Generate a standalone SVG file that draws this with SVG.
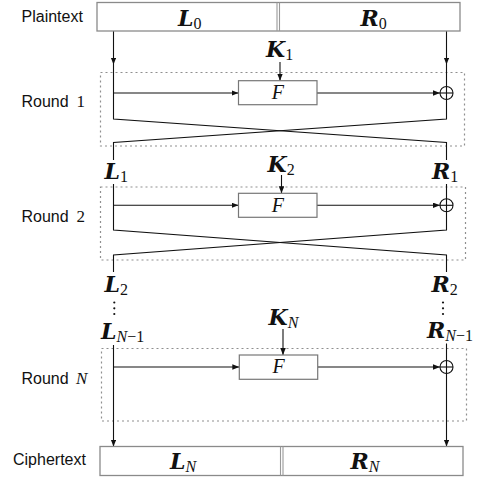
<svg xmlns="http://www.w3.org/2000/svg" width="482" height="478" viewBox="0 0 482 478">
  <style>
    .sans { font-family: "Liberation Sans", Arial, sans-serif; font-size: 16px; fill: #111; }
    .num { font-family: "Liberation Serif", "Times New Roman", serif; font-size: 17px; fill: #111; }
    .var { font-family: "DejaVu Serif", serif; font-weight: bold; font-style: italic; font-size: 22px; fill: #111; }
    .sub { font-family: "Liberation Serif", "Times New Roman", serif; font-weight: normal; font-style: normal; font-size: 16px; }
    .subi { font-family: "Liberation Serif", "Times New Roman", serif; font-weight: normal; font-style: italic; font-size: 16px; }
    .fn { font-family: "Liberation Serif", "Times New Roman", serif; font-style: italic; font-size: 20px; fill: #111; }
    .block { fill: #fff; stroke: #8a8a8a; stroke-width: 1.3; }
    .split { stroke: #9a9a9a; stroke-width: 1.1; }
    .fbox { fill: #fff; stroke: #777; stroke-width: 1.2; }
    .round { fill: none; stroke: #8f8f8f; stroke-width: 1.2; stroke-dasharray: 2 3; }
    .wire { fill: none; stroke: #111; stroke-width: 1.1; }
    .arrow { fill: none; stroke: #111; stroke-width: 1.1; marker-end: url(#tip); }
    .xor { fill: none; stroke: #111; stroke-width: 1.1; }
  </style>
  <defs>
    <marker id="tip" markerUnits="userSpaceOnUse" markerWidth="8" markerHeight="6" refX="7" refY="2.75" orient="auto">
      <path d="M0,0 L7,2.75 L0,5.5 z" fill="#111"/>
    </marker>
  </defs>

  <!-- side labels -->
  <text class="sans" x="21.5" y="21.5">Plaintext</text>
  <text class="sans" x="21.5" y="106.5">Round <tspan class="num" x="76.5">1</tspan></text>
  <text class="sans" x="21.5" y="221.5">Round <tspan class="num" x="76.5">2</tspan></text>
  <text class="sans" x="21.5" y="384">Round <tspan class="num" x="76" font-style="italic">N</tspan></text>
  <text class="sans" x="13" y="465">Ciphertext</text>

  <!-- round frames -->
  <g id="round1">
    <rect class="round" x="100.5" y="72.5" width="364" height="73.5"/>
  </g>
  <g id="round2">
    <rect class="round" x="100.5" y="187" width="365" height="73"/>
  </g>
  <g id="roundN">
    <rect class="round" x="101.5" y="348.5" width="365" height="72.5"/>
  </g>

  <!-- connectors -->
  <g id="connectors">
    <!-- input halves into round 1 -->
    <path class="arrow" d="M113.5,31 V64.5"/>
    <path class="arrow" d="M446.5,31 V64.5"/>
    <path class="wire" d="M113.5,64 V119 L446.5,142.5 V160"/>
    <path class="wire" d="M446.5,64 V119 L113.5,142.5 V160"/>
    <path class="arrow" d="M113.5,93 H238.5"/>
    <path class="arrow" d="M317,93 H440"/>
    <path class="arrow" d="M280,62 V80.7"/>

    <!-- round 2 -->
    <path class="wire" d="M113.5,184 V230 L446.5,255 V272"/>
    <path class="wire" d="M446.5,184 V230 L113.5,255 V272"/>
    <path class="arrow" d="M113.5,205.3 H238.5"/>
    <path class="arrow" d="M317,205.3 H440"/>
    <path class="arrow" d="M281.5,175 V193.3"/>

    <!-- round N (no swap) -->
    <path class="arrow" d="M113.5,345 V446.5"/>
    <path class="arrow" d="M446.5,343.5 V446.5"/>
    <path class="arrow" d="M113.5,367 H239.3"/>
    <path class="arrow" d="M317.7,367 H440"/>
    <path class="arrow" d="M283,329 V355"/>
  </g>

  <!-- XOR nodes -->
  <g id="xor1">
    <circle class="xor" cx="446.5" cy="93" r="6.5"/>
    <path class="xor" d="M440,93 H453"/>
  </g>
  <g id="xor2">
    <circle class="xor" cx="446.5" cy="205.3" r="6.5"/>
    <path class="xor" d="M440,205.3 H453"/>
  </g>
  <g id="xorN">
    <circle class="xor" cx="446.5" cy="367" r="6.5"/>
    <path class="xor" d="M440,367 H453"/>
  </g>

  <!-- round functions -->
  <g id="f1">
    <rect class="fbox" x="238.5" y="80.7" width="78.5" height="24"/>
    <text class="fn" x="277.8" y="99" text-anchor="middle">F</text>
  </g>
  <g id="f2">
    <rect class="fbox" x="238.5" y="193.3" width="78.5" height="24"/>
    <text class="fn" x="277.8" y="211.5" text-anchor="middle">F</text>
  </g>
  <g id="fN">
    <rect class="fbox" x="239.3" y="355" width="78.4" height="24.3"/>
    <text class="fn" x="278.5" y="373.3" text-anchor="middle">F</text>
  </g>

  <!-- plaintext block -->
  <g id="plaintext">
    <rect class="block" x="97" y="2.5" width="363" height="28.5"/>
    <path class="split" d="M277,2.5 V31 M279.5,2.5 V31"/>
    <text class="var" x="178" y="25.5">L<tspan class="sub" dy="3.3">0</tspan></text>
    <text class="var" x="360.5" y="25.5">R<tspan class="sub" dy="3.3">0</tspan></text>
  </g>

  <!-- ciphertext block -->
  <g id="ciphertext">
    <rect class="block" x="100" y="446.5" width="363" height="29"/>
    <path class="split" d="M280.5,446.5 V475.5 M283,446.5 V475.5"/>
    <text class="var" x="170" y="468.5">L<tspan class="subi" dy="3.3">N</tspan></text>
    <text class="var" x="350.5" y="468.5">R<tspan class="subi" dy="3.3">N</tspan></text>
  </g>

  <!-- keys -->
  <g id="k1"><text class="var" x="266" y="57">K<tspan class="sub" dy="3.3">1</tspan></text></g>
  <g id="k2"><text class="var" x="267.5" y="171.5">K<tspan class="sub" dy="3.3">2</tspan></text></g>
  <g id="kN"><text class="var" x="268.5" y="325">K<tspan class="subi" dy="3.3">N</tspan></text></g>

  <!-- intermediate halves -->
  <g id="l1"><text class="var" x="104.5" y="178.5">L<tspan class="sub" dy="3.3">1</tspan></text></g>
  <g id="r1"><text class="var" x="432" y="178.5">R<tspan class="sub" dy="3.3">1</tspan></text></g>
  <g id="l2"><text class="var" x="104.5" y="291.5">L<tspan class="sub" dy="3.3">2</tspan></text></g>
  <g id="r2"><text class="var" x="431.5" y="291.5">R<tspan class="sub" dy="3.3">2</tspan></text></g>
  <g id="lN1"><text class="var" x="101" y="338.5">L<tspan class="subi" dy="3.3">N</tspan><tspan class="sub">−1</tspan></text></g>
  <g id="rN1"><text class="var" x="427" y="338">R<tspan class="subi" dy="3.3">N</tspan><tspan class="sub">−1</tspan></text></g>

  <!-- vertical ellipses -->
  <g id="dotsL" fill="#111">
    <circle cx="114.3" cy="302.5" r="1.1"/>
    <circle cx="114.3" cy="308.3" r="1.1"/>
    <circle cx="114.3" cy="314" r="1.1"/>
  </g>
  <g id="dotsR" fill="#111">
    <circle cx="443" cy="302.5" r="1.1"/>
    <circle cx="443" cy="308.3" r="1.1"/>
    <circle cx="443" cy="314" r="1.1"/>
  </g>
</svg>
